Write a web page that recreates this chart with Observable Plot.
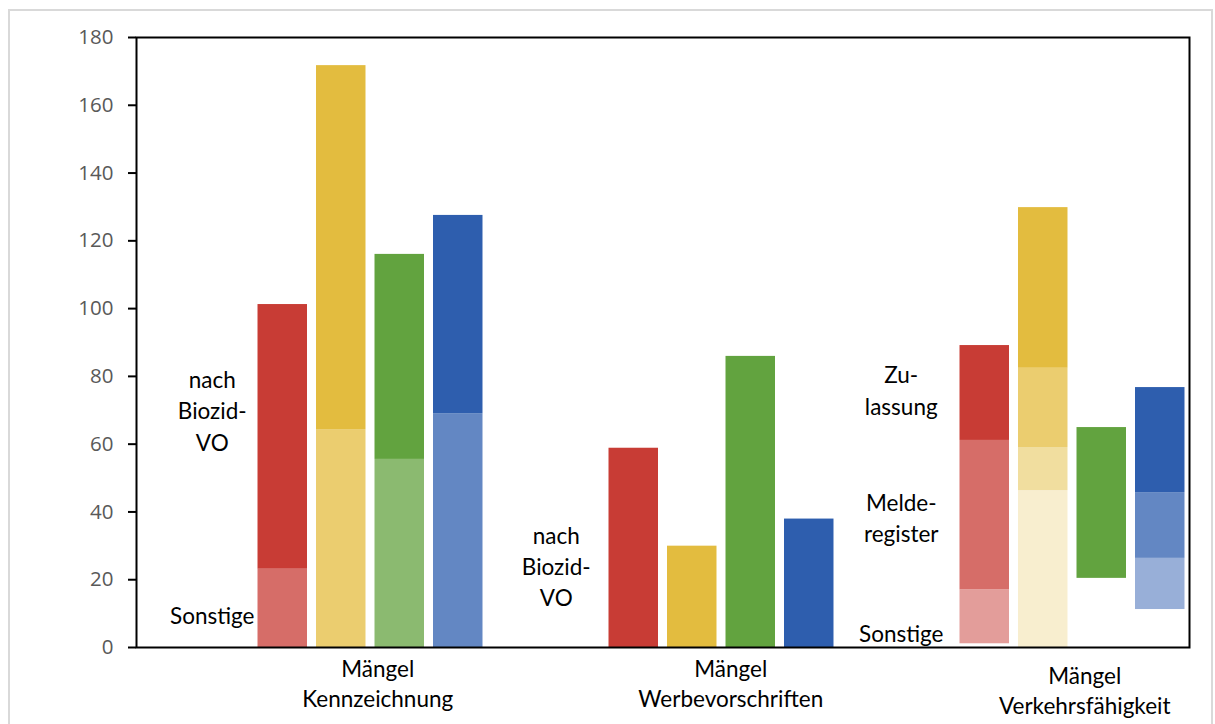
<!DOCTYPE html>
<html>
<head>
<meta charset="utf-8">
<script src="https://cdn.jsdelivr.net/npm/d3@7"></script>
<script src="https://cdn.jsdelivr.net/npm/@observablehq/plot@0.6"></script>
<style>
  html, body { margin: 0; padding: 0; background: #fff; }
  #wrap { position: relative; width: 1215px; height: 724px; overflow: hidden; }
  #border { position: absolute; left: 8px; top: 9px; width: 1205px; height: 760px; border: 2px solid #d9d9d9; box-sizing: border-box; }
  #chart { position: absolute; left: 0; top: 0; }
</style>
</head>
<body>
<div id="wrap"><div id="border"></div><div id="chart"></div></div>
<script>
// ---------- data ----------
const groups = ["Mängel Kennzeichnung", "Mängel Werbevorschriften", "Mängel Verkehrsfähigkeit"];
const groupLabels = ["Mängel\nKennzeichnung", "Mängel\nWerbevorschriften", "Mängel\nVerkehrsfähigkeit"];
const series = ["rot", "gelb", "grün", "blau"];

// segment boundaries per bar (bottom → top) and shade level of each segment (0 = dark … 3 = lightest, null = empty)
const kennzBounds = [[0, 23.1, 101.2], [0, 64.3, 171.7], [0, 55.5, 116.0], [0, 69.0, 127.5]];
const kennzShades = [[1, 0], [1, 0], [1, 0], [1, 0]];
const werbBounds = [[0, 58.8], [0, 29.9], [0, 85.9], [0, 37.9]];
const werbShades = [[0], [0], [0], [0]];
const verkBounds = [[0, 1.1, 17.0, 61.1, 89.1], [0, 46.3, 59.0, 82.4, 129.8], [0, 20.4, 64.9], [0, 11.2, 26.3, 45.7, 76.7]];
const verkShades = [[null, 2, 1, 0], [3, 2, 1, 0], [null, 0], [null, 2, 1, 0]];

// in-chart notes
const noteGroups = [0, 0, 1, 2, 2, 2];
const noteTexts = ["nach\nBiozid-\nVO", "Sonstige", "nach\nBiozid-\nVO", "Zu-\nlassung", "Melde-\nregister", "Sonstige"];
const noteValues = [70.3, 9.8, 24.3, 76.3, 38.7, 4.5];

const yTicks = [0, 20, 40, 60, 80, 100, 120, 140, 160, 180];

// ---------- styles ----------
const palette = {
  "rot":  ["#C83C35", "#D66D68", "#E39D9A", "#F0CECC"],
  "gelb": ["#E3BC3F", "#EBCD6F", "#F1DE9F", "#F8EECF"],
  "grün": ["#62A33F", "#8BBA70", "#B1D29F", "#D8E8CF"],
  "blau": ["#2E5EAE", "#6387C3", "#98AFD8", "#CBD7EB"]
};
const textFont = "Lato, 'Open Sans', sans-serif";
const noteDx = [-12, -19, -25];
const groupLabelDx = [-22, -20, -17];
const groupLabelDy = [9, 9, 16];

// ---------- table ----------
const allBounds = [kennzBounds, werbBounds, verkBounds];
const allShades = [kennzShades, werbShades, verkShades];
const slots = [];
groups.forEach(g => { slots.push(g + "|a", g + "|b"); series.forEach(s => slots.push(g + "|" + s)); });

const rows = [];
groups.forEach((g, gi) => {
  series.forEach((s, si) => {
    const b = allBounds[gi][si], sh = allShades[gi][si];
    for (let k = 0; k < sh.length; k++) {
      if (sh[k] === null) continue;
      rows.push({slot: g + "|" + s, y1: b[k], y2: b[k + 1], color: palette[s][sh[k]]});
    }
  });
});

const notes = noteTexts.map((t, i) => ({group: noteGroups[i], text: t, value: noteValues[i]}));

const marks = [
  Plot.barY(rows, {x: "slot", y1: "y1", y2: "y2", fill: "color"})
];
groups.forEach((g, gi) => {
  marks.push(Plot.text(notes.filter(d => d.group === gi), {
    x: () => g + "|b", y: "value", text: "text",
    dx: noteDx[gi], fontSize: 22.5, fontFamily: textFont, fill: "#000",
    lineAnchor: "middle", lineHeight: 1.39, textAnchor: "middle"
  }));
  marks.push(Plot.text([groupLabels[gi]], {
    x: () => g + "|grün", y: () => 0, text: d => d,
    dx: groupLabelDx[gi], dy: groupLabelDy[gi], fontSize: 22.5, fontFamily: textFont, fill: "#000",
    lineAnchor: "top", lineHeight: 1.3, textAnchor: "middle"
  }));
});
marks.push(Plot.axisY({ticks: yTicks, tickSize: 8, tickPadding: 15, stroke: "#000", strokeWidth: 2, fill: "#595959",
  fontSize: 20.5, fontFamily: "'Open Sans', sans-serif", label: null}));
marks.push(Plot.frame({stroke: "#000", strokeWidth: 2}));

const chart = Plot.plot({
  width: 1215,
  height: 724,
  marginLeft: 136,
  marginRight: 26,
  marginTop: 37,
  marginBottom: 77,
  style: {background: "transparent", overflow: "visible"},
  x: {domain: slots, paddingInner: 0.154, paddingOuter: 0.077, round: false, axis: null},
  y: {domain: [0, 180], axis: null},
  color: {type: "identity"},
  marks
});
document.getElementById("chart").appendChild(chart);
</script>
</body>
</html>
